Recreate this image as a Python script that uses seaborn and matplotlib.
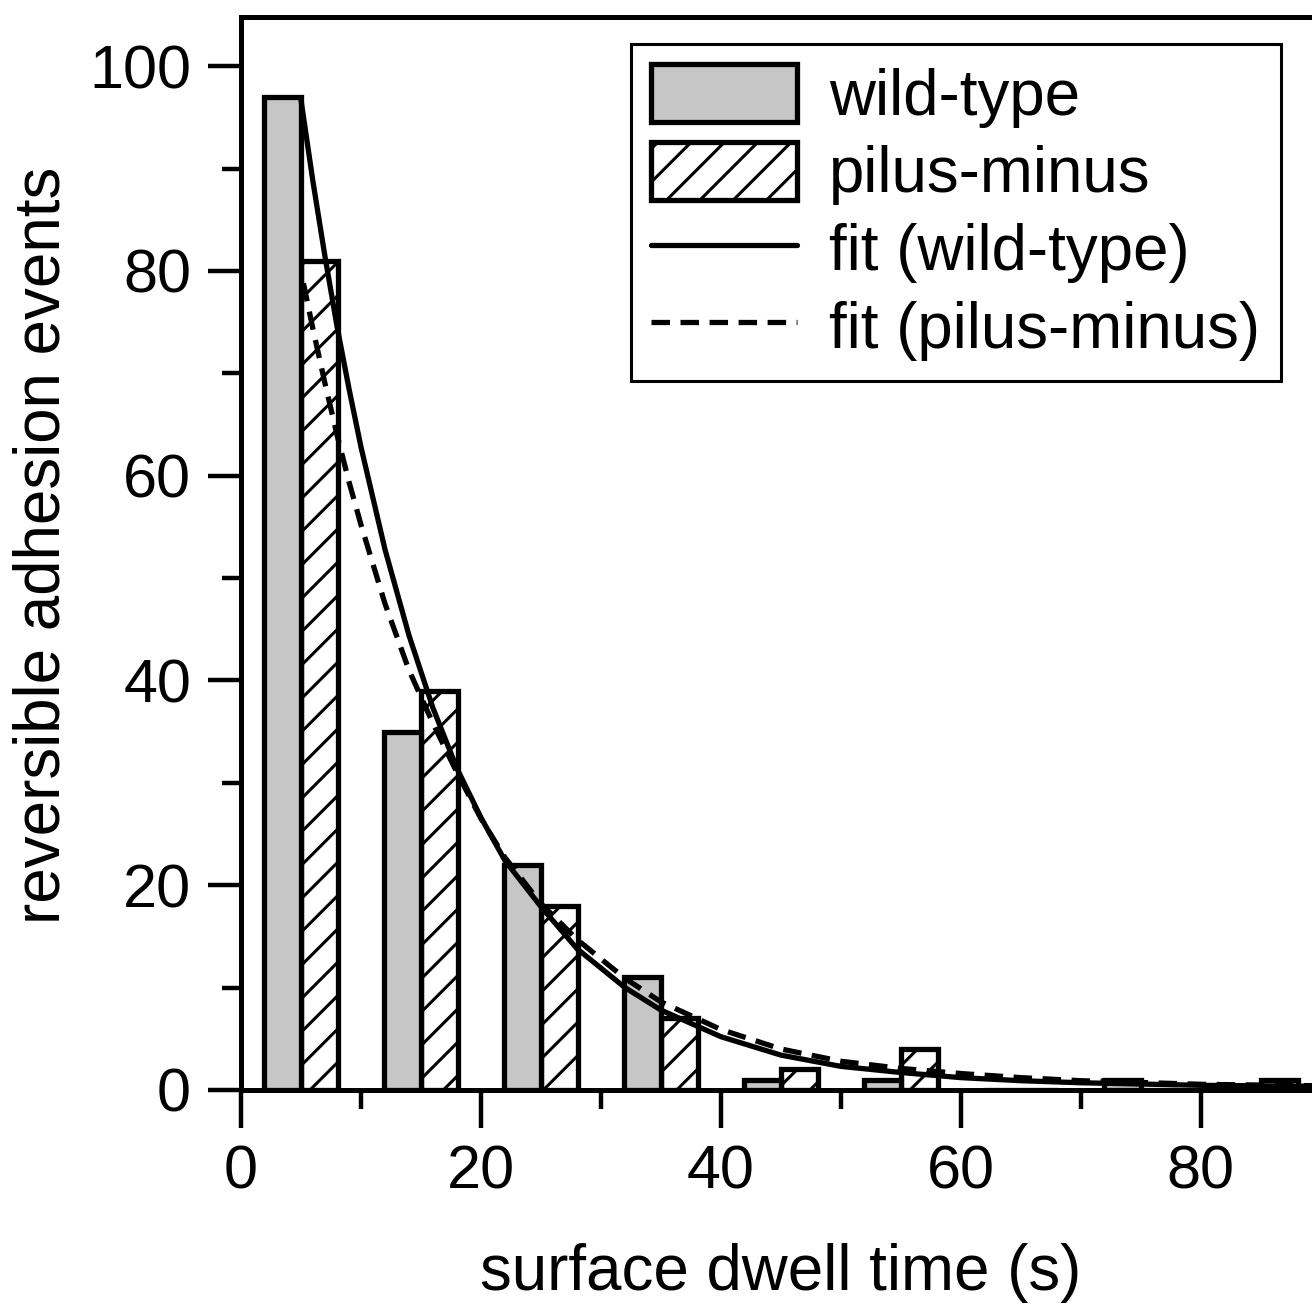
import pandas as pd
import matplotlib
matplotlib.use('Agg')
import matplotlib.pyplot as plt
import seaborn as sns
from matplotlib.patches import Patch
from matplotlib.lines import Line2D
from matplotlib.ticker import MultipleLocator

# histogram bins (s) and counts
bin_edges = [0, 10, 20, 30, 40, 50, 60, 70, 80, 90]
bin_centers = [5, 15, 25, 35, 45, 55, 65, 75, 85]
wild_counts = [97, 35, 22, 11, 1, 1, 0, 1, 0]
pilus_counts = [81, 39, 18, 7, 2, 4, 0, 0, 1]

# fitted curves, points
fit_wt_x = [5, 6, 7, 8, 9, 10, 12, 14, 16, 18, 20, 22, 25, 28, 32, 35, 40, 45, 50, 55, 60, 65, 70, 80, 90]
fit_wt_y = [96.7, 88.7, 81.4, 74.6, 68.5, 62.8, 52.8, 44.4, 37.3, 31.4, 26.6, 22.4, 17.9, 13.8, 10.0, 7.8,
            5.2, 3.4, 2.3, 1.7, 1.2, 0.9, 0.7, 0.45, 0.35]
fit_pm_x = [5.2, 6, 7, 8, 9, 10, 12, 14, 16, 18, 20, 22, 25, 28, 32, 35, 40, 45, 50, 55, 60, 65, 70, 80, 90]
fit_pm_y = [78.8, 74.3, 69.0, 64.0, 59.4, 55.2, 47.5, 41.0, 35.8, 31.0, 26.5, 22.7, 18.2, 14.7, 10.9, 8.6,
            5.9, 4.0, 2.8, 2.1, 1.6, 1.2, 0.9, 0.55, 0.4]

xticks = [0, 20, 40, 60, 80]
yticks = [0, 20, 40, 60, 80, 100]
strains = ['wild-type', 'pilus-minus']

df = pd.DataFrame({
    'time': bin_centers + bin_centers,
    'count': wild_counts + pilus_counts,
    'strain': [strains[0]] * len(bin_centers) + [strains[1]] * len(bin_centers),
})

sns.set_style('ticks')
plt.rcParams['font.family'] = ['Liberation Sans', 'DejaVu Sans']
plt.rcParams['text.color'] = 'black'
plt.rcParams['axes.labelcolor'] = 'black'
plt.rcParams['xtick.color'] = 'black'
plt.rcParams['ytick.color'] = 'black'
plt.rcParams['axes.edgecolor'] = 'black'
plt.rcParams['hatch.linewidth'] = 1.1
plt.rcParams['hatch.color'] = 'black'

fs_tick = 22
fs = 22.9
lw_bar = 1.9
lw_fit = 1.9
fig = plt.figure(figsize=(6.56, 6.55), dpi=200)
ax = fig.add_axes([0.1837, 0.168, 0.823, 0.819])

gray = '#c6c6c6'
sns.histplot(data=df, x='time', weights='count', hue='strain', hue_order=strains,
             bins=bin_edges, multiple='dodge', shrink=0.62,
             palette={strains[0]: gray, strains[1]: 'white'},
             edgecolor='black', linewidth=lw_bar, alpha=1, legend=False, ax=ax)
for p in ax.patches:
    fc = p.get_facecolor()
    if fc[0] > 0.95 and fc[1] > 0.95:
        p.set_hatch('//')

sns.lineplot(x=fit_wt_x, y=fit_wt_y, color='black', linewidth=lw_fit, ax=ax)
sns.lineplot(x=fit_pm_x, y=fit_pm_y, color='black', linewidth=lw_fit, linestyle=(0, (3.5, 2)), ax=ax)

ax.set_xlim(0, 90)
ax.set_ylim(0, 104.8)
ax.set_xticks(xticks)
ax.set_yticks(yticks)
ax.xaxis.set_minor_locator(MultipleLocator(10))
ax.yaxis.set_minor_locator(MultipleLocator(10))
ax.tick_params(axis='x', which='major', length=13.5, width=1.6, labelsize=fs_tick, pad=6)
ax.tick_params(axis='y', which='major', length=12, width=1.6, labelsize=fs_tick, pad=6)
ax.tick_params(which='minor', length=7, width=1.6)
for s in ax.spines.values():
    s.set_linewidth(1.8)

ax.set_xlabel('surface dwell time (s)', fontsize=fs)
ax.set_ylabel('reversible adhesion events', fontsize=fs)
ax.xaxis.set_label_coords(0.5, -0.143)
ax.xaxis.label.set_va('top')
ax.yaxis.set_label_coords(-0.156, 0.508)

handles = [
    Patch(facecolor=gray, edgecolor='black', linewidth=lw_bar),
    Patch(facecolor='white', edgecolor='black', linewidth=lw_bar, hatch='//'),
    Line2D([], [], color='black', linewidth=lw_fit),
    Line2D([], [], color='black', linewidth=lw_fit, linestyle=(0, (3.5, 2))),
]
labels = ['wild-type', 'pilus-minus', 'fit (wild-type)', 'fit (pilus-minus)']
leg = ax.legend(handles, labels, loc='upper left', bbox_to_anchor=(0.361, 0.975),
                borderaxespad=0, fontsize=fs, frameon=True, fancybox=False,
                framealpha=1, edgecolor='black', handlelength=2.3, handleheight=1.02,
                handletextpad=0.5, labelspacing=0.22, borderpad=0.32)
leg.get_frame().set_linewidth(1.1)

fig.savefig('out.png', dpi=200)
